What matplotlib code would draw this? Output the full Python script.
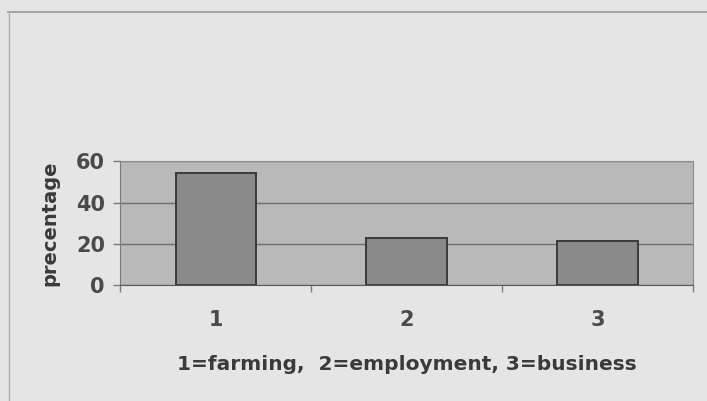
import numpy as np
import matplotlib.pyplot as plt

# source of income, percentage of respondents
codes = [1, 2, 3]
tick_labels = ['1', '2', '3']
percentages = [54.5, 22.8, 21.5]

plt.rcParams['font.family'] = ['DejaVu Sans']

fig = plt.figure(figsize=(7.07, 4.01), dpi=100)
fig.patch.set_facecolor('#e5e5e5')

# frame lines along the top and left of the chart area
fig.add_artist(plt.Line2D([0.012, 1.0], [0.97, 0.97], color='#9a9a9a', lw=1.2))
fig.add_artist(plt.Line2D([0.013, 0.013], [0.0, 0.97], color='#b0b0b0', lw=1.0))

ax = fig.add_axes([0.170, 0.289, 0.810, 0.309])
ax.set_facecolor('#b9b9b9')

ax.bar(codes, percentages, width=0.42, color='#8a8a8a',
       edgecolor='#3a3a3a', linewidth=1.4, zorder=3)

ax.set_xlim(0.5, 3.5)
ax.set_ylim(0, 60)
ax.set_yticks([0, 20, 40, 60])
ax.yaxis.grid(True, color='#6e6e6e', linewidth=1.0, zorder=1)

# category labels at bar centres, tick marks between categories
ax.set_xticks(codes)
ax.set_xticklabels(tick_labels)
ax.set_xticks([0.5, 1.5, 2.5, 3.5], minor=True)
ax.tick_params(axis='x', which='major', length=0, pad=18,
               labelsize=15, labelcolor='#4a4a4a')
ax.tick_params(axis='x', which='minor', length=5, width=1.0,
               color='#7a7a7a', direction='out')
ax.tick_params(axis='y', length=5, width=1.0, color='#7a7a7a',
               labelsize=15, labelcolor='#4a4a4a', pad=6)
for lbl in ax.get_xticklabels() + ax.get_yticklabels():
    lbl.set_fontweight('bold')

for side in ['top', 'right']:
    ax.spines[side].set_color('#8a8a8a')
ax.spines['left'].set_color('#7a7a7a')
ax.spines['bottom'].set_color('#5a5a5a')

ax.set_ylabel('precentage', fontsize=14, fontweight='bold',
              color='#3a3a3a', labelpad=12)
ax.set_xlabel('1=farming,  2=employment, 3=business', fontsize=14.5,
              fontweight='bold', color='#3a3a3a', labelpad=18)

plt.savefig('out.png', dpi=100, facecolor=fig.get_facecolor())
